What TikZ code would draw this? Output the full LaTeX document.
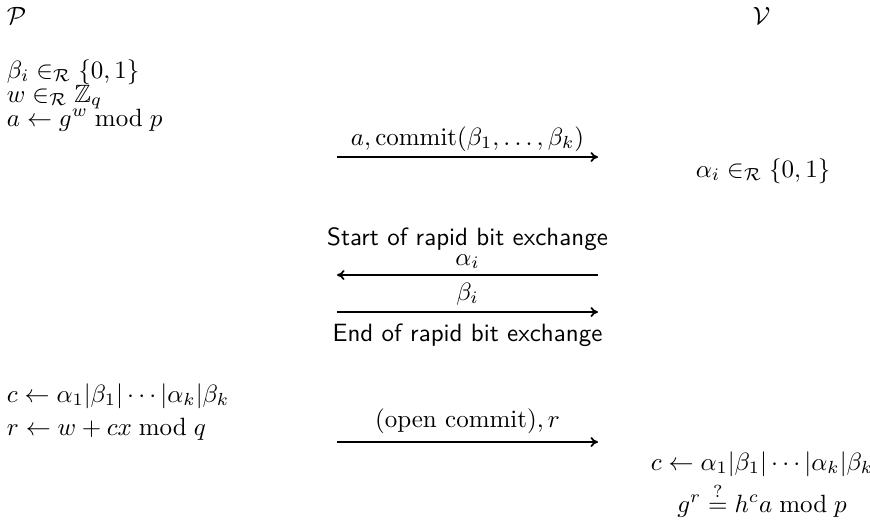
\documentclass[tikz,border=0pt]{standalone}
\usepackage{amsmath,amssymb}
\usetikzlibrary{arrows.meta}

\begin{document}
\begin{tikzpicture}[x=0.4pt, y=-0.4pt, line width=0.7pt,
  lbl/.style={anchor=base west, inner sep=0pt},
  mid/.style={anchor=base, inner sep=0pt},
  msg/.style={-{To[length=3pt, width=4pt]}}]

  \useasboundingbox (0,0) rectangle (870,521);

  % ───────── Parties ─────────
  \node[lbl] (prover)   at (6,24)   {$\mathcal{P}$};
  \node[lbl] (verifier) at (752,24) {$\mathcal{V}$};

  % ───────── Prover: commitment ─────────
  \node[lbl] (pbeta) at (6,78)  {$\beta_i \in_{\mathcal{R}} \{0,1\}$};
  \node[lbl] (pw)    at (6,102) {$w \in_{\mathcal{R}} \mathbb{Z}_q$};
  \node[lbl] (pa)    at (6,126) {$a \leftarrow g^w \bmod p$};

  % first message  P -> V
  \coordinate (m1s) at (337,157);
  \coordinate (m1e) at (598,157);
  \draw[msg] (m1s) -- (m1e);
  \node[mid] (m1lbl) at (467.5,145) {$a, \mathrm{commit}(\beta_1, \ldots, \beta_k)$};

  % ───────── Verifier: challenge bits ─────────
  \node[lbl] (valpha) at (695,177) {$\alpha_i \in_{\mathcal{R}} \{0,1\}$};

  % ───────── Rapid bit exchange ─────────
  \node[mid] (rbstart) at (467.5,245) {\textsf{Start of rapid bit exchange}};
  \coordinate (rbl) at (337,275);
  \coordinate (rbr) at (598,275);
  \draw[msg] (rbr) -- (rbl);
  \node[mid] (rbalpha) at (467.5,265) {$\alpha_i$};
  \coordinate (rcl) at (337,312);
  \coordinate (rcr) at (598,312);
  \draw[msg] (rcl) -- (rcr);
  \node[mid] (rbbeta) at (467.5,300) {$\beta_i$};
  \node[mid] (rbend) at (467.5,341) {\textsf{End of rapid bit exchange}};

  % ───────── Prover: response ─────────
  \node[lbl] (pc) at (6,402) {$c \leftarrow \alpha_1|\beta_1|\cdots|\alpha_k|\beta_k$};
  \node[lbl] (pr) at (6,435) {$r \leftarrow w + cx \bmod q$};

  % last message  P -> V
  \coordinate (m3s) at (337,442);
  \coordinate (m3e) at (598,442);
  \draw[msg] (m3s) -- (m3e);
  \node[mid] (m3lbl) at (467.5,427) {$(\text{open commit}), r$};

  % ───────── Verifier: check ─────────
  \node[mid] (vc)     at (762,470) {$c \leftarrow \alpha_1|\beta_1|\cdots|\alpha_k|\beta_k$};
  \node[mid] (vcheck) at (762,512) {$g^r \stackrel{?}{=} h^c a \bmod p$};

\end{tikzpicture}
\end{document}
